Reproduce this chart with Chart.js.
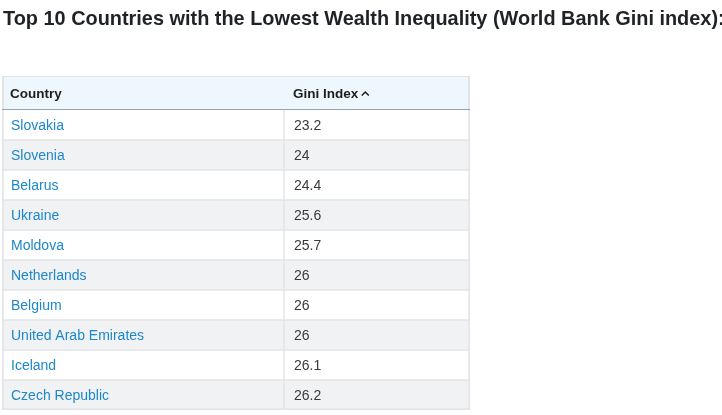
<!DOCTYPE html>
<html>
<head>
<meta charset="utf-8">
<script src="https://cdn.jsdelivr.net/npm/chart.js@4/dist/chart.umd.min.js"></script>
<style>
  html, body { margin: 0; padding: 0; background: #ffffff; width: 722px; height: 415px; overflow: hidden; }
  #wrap { position: relative; width: 722px; height: 415px; overflow: hidden; }
  #title {
    position: absolute; left: 3px; top: 7px; margin: 0;
    font-family: "Liberation Sans", Arial, sans-serif; font-weight: bold;
    font-size: 19.9px; line-height: 22px; color: #1f2226;
    white-space: nowrap;
  }
  canvas { position: absolute; left: 0; top: 0; }
</style>
</head>
<body>
<div id="wrap">
  <canvas id="c" width="722" height="415"></canvas>
  <h3 id="title">Top 10 Countries with the Lowest Wealth Inequality (World Bank Gini index):</h3>
</div>
<script>
// ---- data ----
const headers = ['Country', 'Gini Index'];
const countries = ['Slovakia', 'Slovenia', 'Belarus', 'Ukraine', 'Moldova',
  'Netherlands', 'Belgium', 'United Arab Emirates', 'Iceland', 'Czech Republic'];
const giniIndex = [23.2, 24, 24.4, 25.6, 25.7, 26, 26, 26, 26.1, 26.2];

// ---- style constants ----
const SPLIT = 0.6026;           // column boundary in x-scale units (0..1)
const HEADER_H = 34;
const BORDER = '#e2e4e7';
const FONT = '"Liberation Sans", Arial, sans-serif';
const last = countries.length - 1;
const rowFill = countries.map((_, i) => (i % 2 ? '#f1f2f4' : '#ffffff'));

function cellBorder(isLeftCol) {
  return (ctx) => ({
    top: ctx.dataIndex === 0 ? 0 : 1,
    bottom: ctx.dataIndex === last ? 2 : 1,
    left: isLeftCol ? 2 : 1,
    right: isLeftCol ? 1 : 2
  });
}

const tablePlugin = {
  id: 'tableText',
  beforeDatasetsDraw(chart) {
    const { ctx, chartArea, scales } = chart;
    const x0 = scales.x.getPixelForValue(0);
    const x1 = scales.x.getPixelForValue(1);
    const top = chartArea.top - HEADER_H;
    ctx.save();
    ctx.fillStyle = BORDER;
    ctx.fillRect(x0, top, x1 - x0, HEADER_H);
    ctx.fillStyle = '#eef7fe';
    ctx.fillRect(x0 + 2, top + 1, x1 - x0 - 4, HEADER_H - 1);
    ctx.fillStyle = '#97a3b0';
    ctx.fillRect(x0, chartArea.top - 1, x1 - x0, 1);
    ctx.restore();
  },
  afterDatasetsDraw(chart) {
    const { ctx, chartArea, scales } = chart;
    const xa = scales.x.getPixelForValue(0);
    const xb = scales.x.getPixelForValue(SPLIT);
    const headerMid = chartArea.top - HEADER_H / 2;
    ctx.save();
    ctx.textAlign = 'left';
    ctx.textBaseline = 'alphabetic';
    ctx.font = 'bold 13.5px ' + FONT;
    ctx.fillStyle = '#1b1d20';
    ctx.fillText(headers[0], xa + 8, headerMid + 5);
    ctx.fillText(headers[1], xb + 9, headerMid + 5);
    const w = ctx.measureText(headers[1]).width;
    const cx = xb + 9 + w + 7;
    ctx.strokeStyle = '#1b1d20';
    ctx.lineWidth = 1.5;
    ctx.beginPath();
    ctx.moveTo(cx - 3.5, headerMid + 2.5);
    ctx.lineTo(cx, headerMid - 1);
    ctx.lineTo(cx + 3.5, headerMid + 2.5);
    ctx.stroke();
    ctx.font = '14px ' + FONT;
    countries.forEach((name, i) => {
      const y = scales.y.getPixelForValue(i) + 5;
      ctx.fillStyle = '#1c87c9';
      ctx.fillText(name, xa + 9, y);
      ctx.fillStyle = '#3a3a3a';
      ctx.fillText(String(giniIndex[i]), xb + 10, y);
    });
    ctx.restore();
  }
};

new Chart(document.getElementById('c'), {
  type: 'bar',
  data: {
    labels: countries,
    datasets: [
      {
        label: headers[0],
        data: countries.map(() => [0, SPLIT]),
        backgroundColor: rowFill,
        borderColor: BORDER,
        borderWidth: cellBorder(true),
        borderSkipped: false
      },
      {
        label: headers[1],
        data: giniIndex.map(() => [SPLIT, 1]),
        backgroundColor: rowFill,
        borderColor: BORDER,
        borderWidth: cellBorder(false),
        borderSkipped: false
      }
    ]
  },
  options: {
    indexAxis: 'y',
    responsive: false,
    animation: false,
    devicePixelRatio: 1,
    layout: { padding: { left: 2, right: 252, top: 110, bottom: 5 } },
    datasets: { bar: { grouped: false, barPercentage: 1, categoryPercentage: 1 } },
    scales: {
      x: { type: 'linear', min: 0, max: 1, display: false },
      y: { type: 'category', display: false, offset: true }
    },
    plugins: { legend: { display: false }, tooltip: { enabled: false }, title: { display: false } }
  },
  plugins: [tablePlugin]
});
</script>
</body>
</html>
